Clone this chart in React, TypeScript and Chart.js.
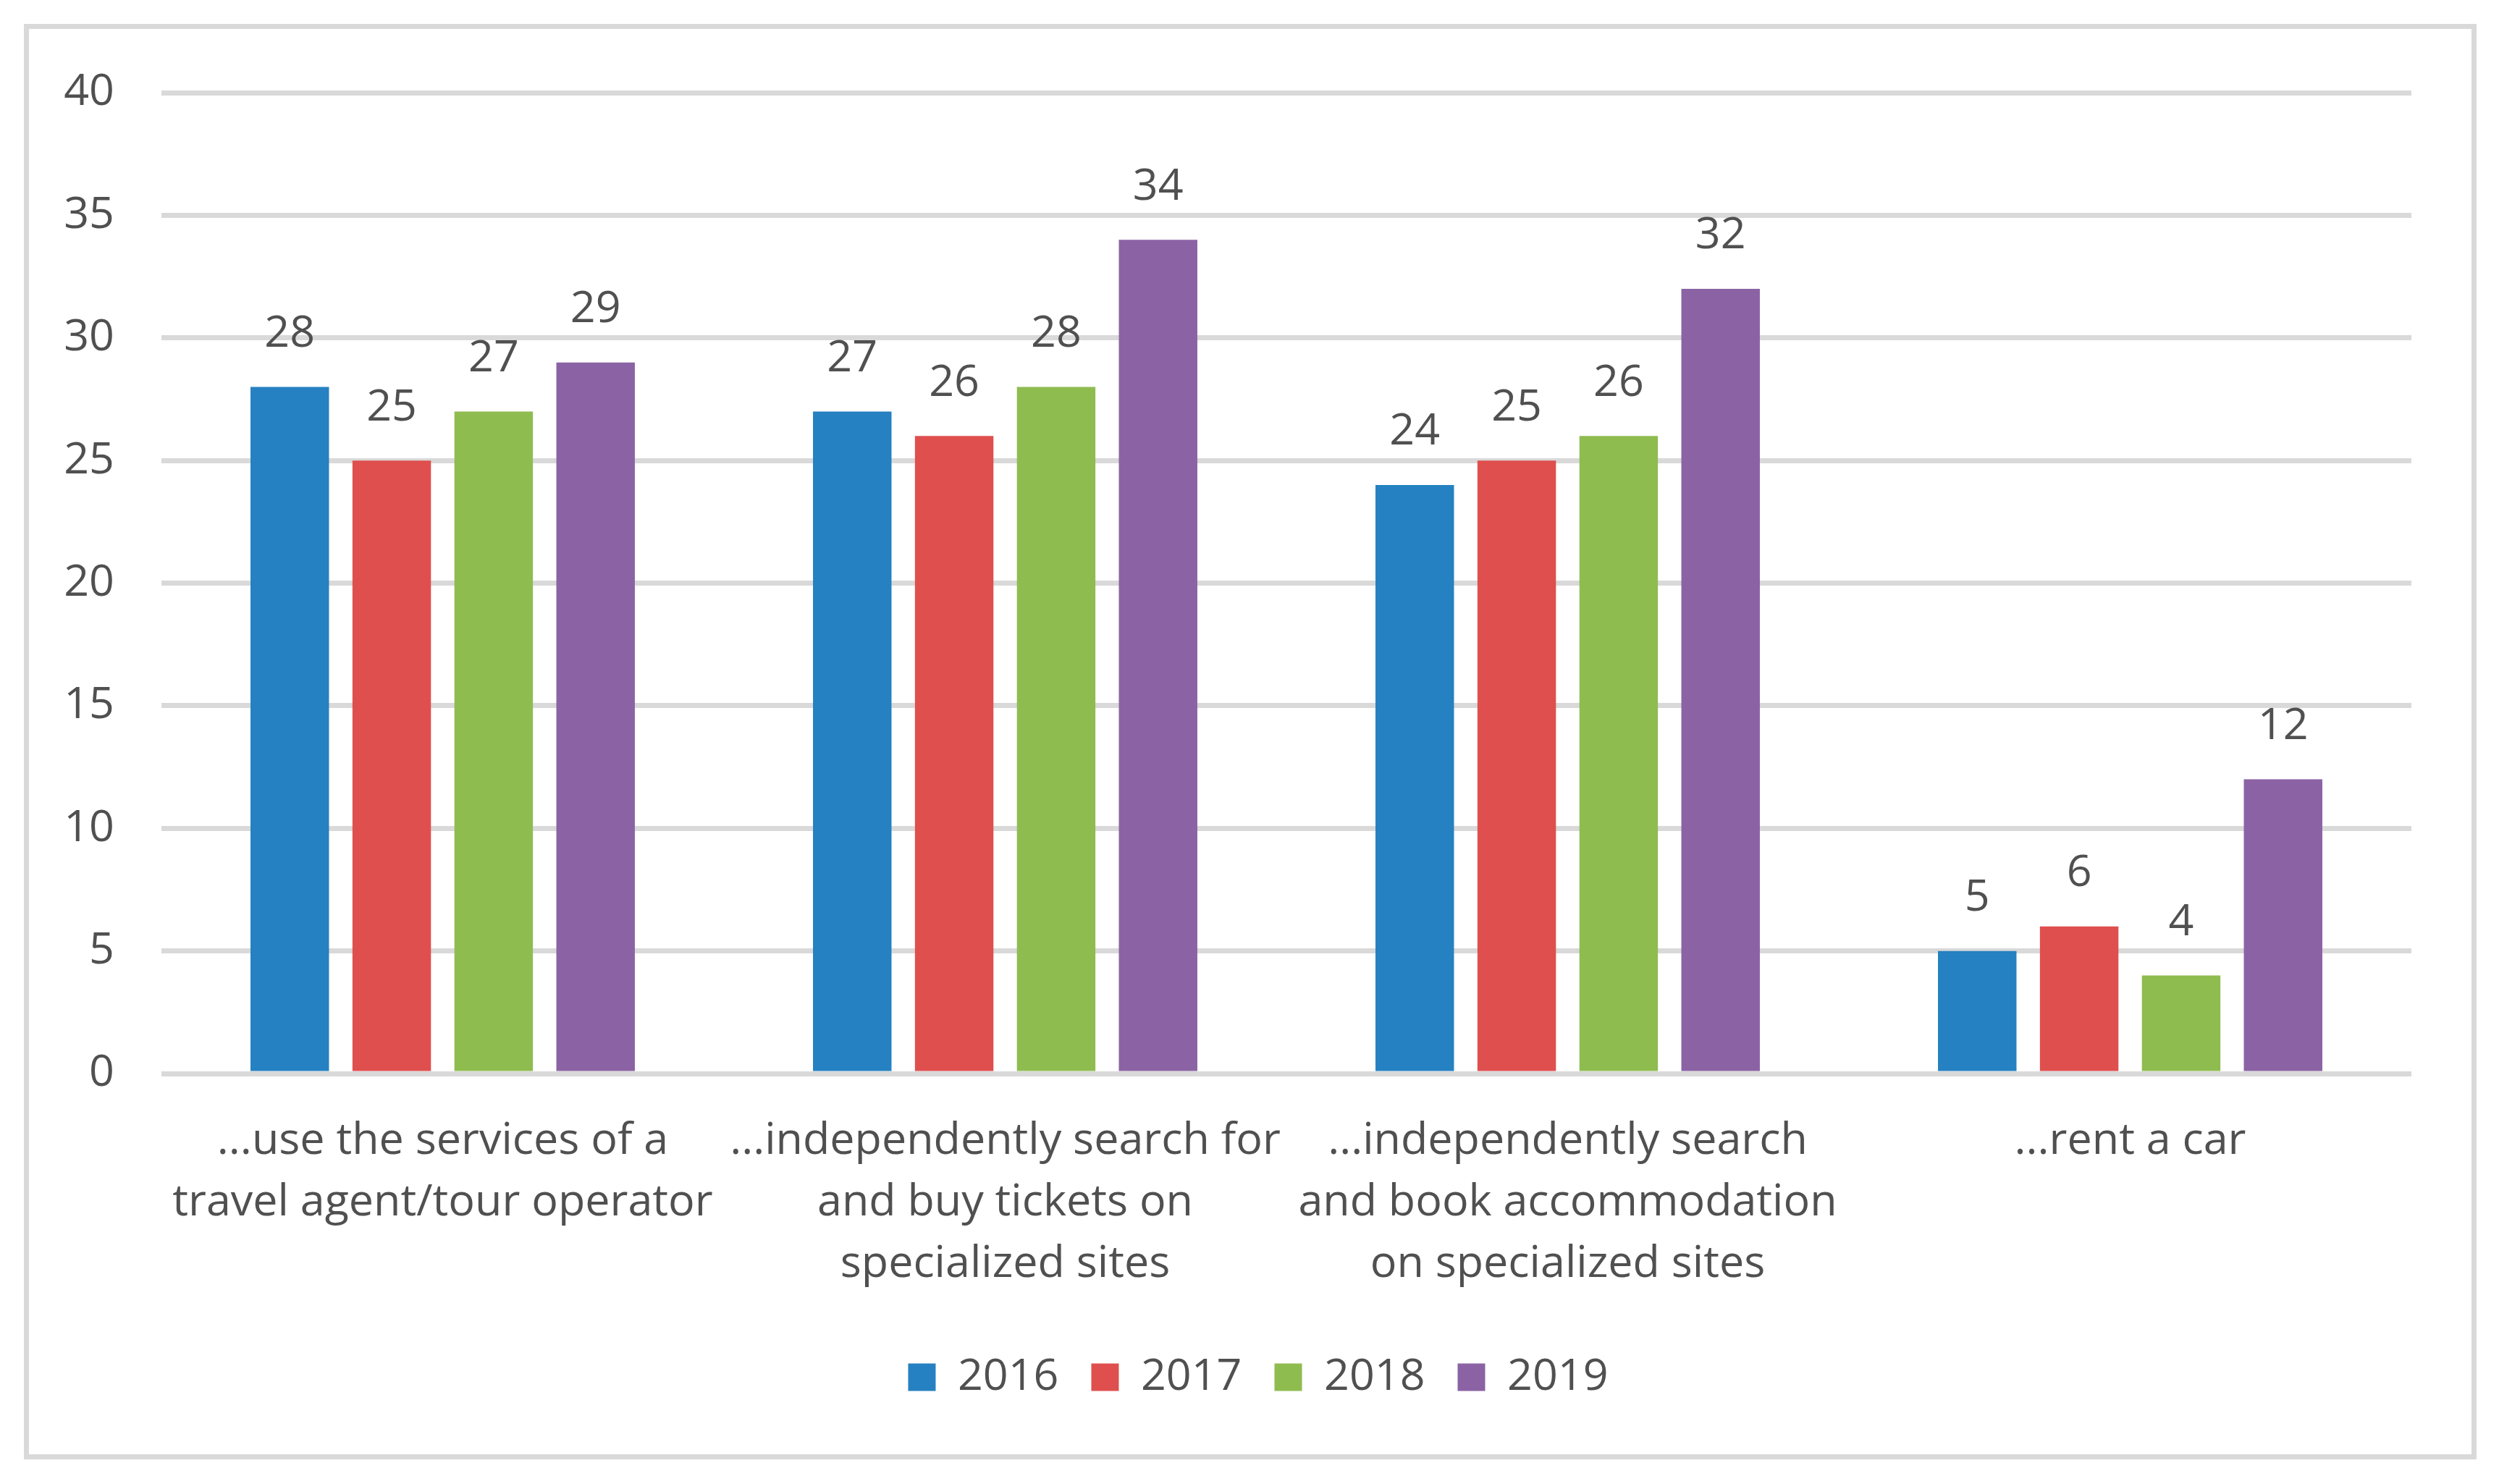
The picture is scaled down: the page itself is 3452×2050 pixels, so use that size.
import React, { useEffect, useRef } from "react";
import { Chart, registerables } from "chart.js";

Chart.register(...registerables);

// ---- data ----
const categories: string[][] = [
  ["...use the services of a", "travel agent/tour operator"],
  ["...independently search for", "and buy tickets on", "specialized sites"],
  ["...independently search", "and book accommodation", "on specialized sites"],
  ["...rent a car"],
];
const seriesNames = ["2016", "2017", "2018", "2019"];
const values2016 = [28, 27, 24, 5];
const values2017 = [25, 26, 25, 6];
const values2018 = [27, 28, 26, 4];
const values2019 = [29, 34, 32, 12];
const yTickLabels = ["0", "5", "10", "15", "20", "25", "30", "35", "40"];
const yMin = 0;
const yMax = 40;
const yStep = 5;

const seriesColors = ["#2581c1", "#df4f4e", "#8fbc4f", "#8b63a4"];
const TEXT = "#505050";
const GRID = "#d9d9d9";
const FONT_FAMILY = '"Open Sans", "DejaVu Sans", sans-serif';
const FONT_SIZE = 61;

const W = 3452;
const H = 2050;

const valueLabels = {
  id: "valueLabels",
  afterDatasetsDraw(chart: any) {
    const ctx = chart.ctx;
    ctx.save();
    ctx.font = `${FONT_SIZE}px ${FONT_FAMILY}`;
    ctx.fillStyle = TEXT;
    ctx.textAlign = "center";
    ctx.textBaseline = "middle";
    chart.data.datasets.forEach((ds: any, i: number) => {
      const meta = chart.getDatasetMeta(i);
      meta.data.forEach((bar: any, j: number) => {
        ctx.fillText(String(ds.data[j]), bar.x, bar.y - 73);
      });
    });
    ctx.restore();
  },
};

export default function App() {
  const canvasRef = useRef<HTMLCanvasElement | null>(null);

  useEffect(() => {
    let chart: Chart | null = null;
    let cancelled = false;
    const build = () => {
      if (cancelled || !canvasRef.current) return;
      // width of the widest y tick label, so the mirrored labels end 65px left of the plot
      const mctx = document.createElement("canvas").getContext("2d")!;
      mctx.font = `${FONT_SIZE}px ${FONT_FAMILY}`;
      const widest = Math.max(...yTickLabels.map((t) => mctx.measureText(t).width));
      const allValues = [values2016, values2017, values2018, values2019];
      chart = new Chart(canvasRef.current, {
        type: "bar",
        data: {
          labels: categories,
          datasets: seriesNames.map((name, i) => ({
            label: name,
            data: allValues[i],
            backgroundColor: seriesColors[i],
            borderWidth: 0,
            categoryPercentage: 0.725,
            barPercentage: 0.77,
          })),
        },
        options: {
          responsive: false,
          animation: false,
          layout: { padding: { left: 145, right: 121, top: 128, bottom: 107 } },
          font: { family: FONT_FAMILY, size: FONT_SIZE },
          plugins: {
            tooltip: { enabled: false },
            legend: {
              position: "bottom",
              labels: {
                boxWidth: 38,
                boxHeight: 38,
                padding: 45,
                color: TEXT,
                font: { family: FONT_FAMILY, size: FONT_SIZE },
              },
            },
          },
          scales: {
            x: {
              grid: { display: false },
              border: { display: false },
              ticks: {
                color: TEXT,
                padding: 43,
                maxRotation: 0,
                autoSkip: false,
                font: { family: FONT_FAMILY, size: FONT_SIZE, lineHeight: 1.393 },
              },
              afterFit: (scale: any) => {
                scale.height = 344;
              },
            },
            y: {
              min: yMin,
              max: yMax,
              grid: { color: GRID, lineWidth: 7, drawTicks: false },
              border: { display: false },
              ticks: {
                stepSize: yStep,
                color: TEXT,
                mirror: true,
                crossAlign: "far",
                padding: -(65 + widest),
                font: { family: FONT_FAMILY, size: FONT_SIZE },
              },
              afterFit: (scale: any) => {
                scale.width = 78;
              },
            },
          },
        },
        plugins: [valueLabels],
      } as any);
    };
    const fontsApi = (document as any).fonts;
    if (fontsApi && fontsApi.load) {
      fontsApi.load(`${FONT_SIZE}px "Open Sans"`).then(build, build);
    } else {
      build();
    }
    return () => {
      cancelled = true;
      if (chart) chart.destroy();
    };
  }, []);

  return (
    <div
      style={{
        position: "fixed",
        left: 0,
        top: 0,
        width: W,
        height: H,
        background: "#ffffff",
        overflow: "hidden",
      }}
    >
      <div
        style={{
          position: "absolute",
          left: 33,
          top: 33,
          width: 3388,
          height: 1983,
          border: `7px solid ${GRID}`,
          boxSizing: "border-box",
        }}
      />
      <canvas
        ref={canvasRef}
        width={W}
        height={H}
        style={{ position: "absolute", left: 0, top: 0, width: W, height: H }}
      />
    </div>
  );
}
